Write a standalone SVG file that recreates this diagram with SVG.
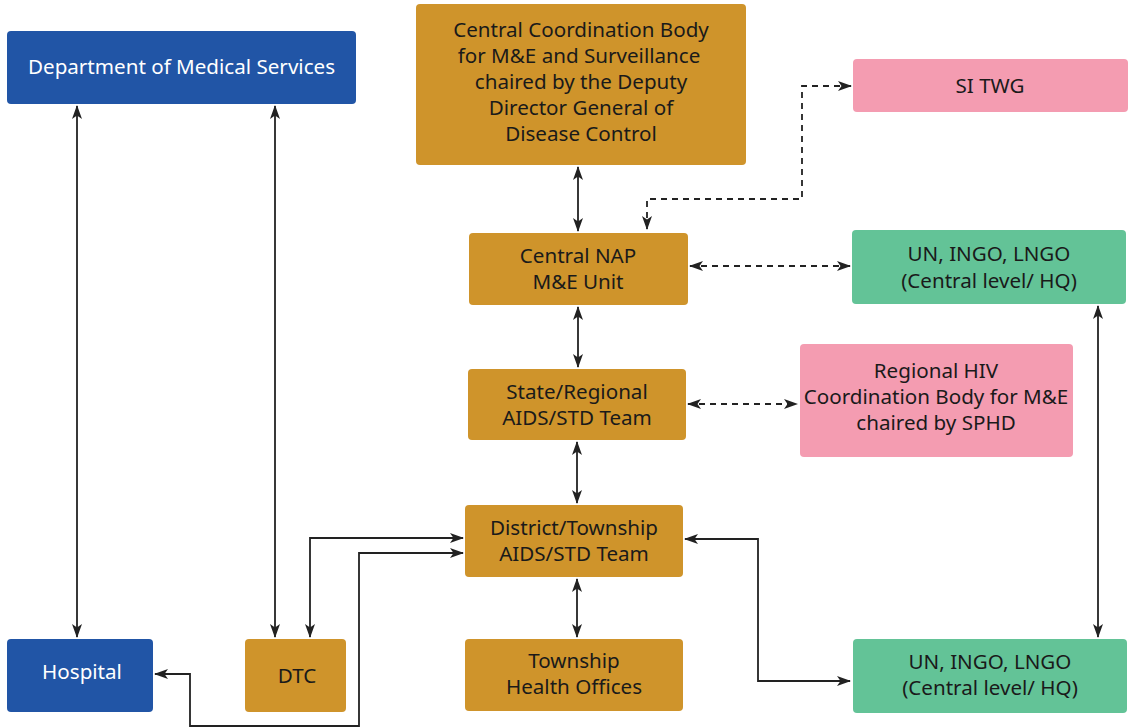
<svg xmlns="http://www.w3.org/2000/svg" width="1130" height="728" viewBox="0 0 1130 728">
  <defs>
    <marker id="ah" viewBox="0 0 14 10" refX="13" refY="5" markerWidth="14" markerHeight="10" markerUnits="userSpaceOnUse" orient="auto-start-reverse">
      <path d="M0,0 L14,5 L0,10 L3.5,5 Z" fill="#222"/>
    </marker>
  </defs>
  <style>
    .n rect { rx: 4; ry: 4; }
    .blue rect { fill: #2155a6; }
    .gold rect { fill: #cf942b; }
    .pink rect { fill: #f49cb1; }
    .green rect { fill: #63c397; }
    text { font-family: "Noto Sans", "DejaVu Sans", sans-serif; font-size: 20.6px; text-anchor: middle; fill: #1a1a1a; }
    .blue text { fill: #ffffff; }
    .c path { fill: none; stroke: #222; stroke-width: 1.8; marker-start: url(#ah); marker-end: url(#ah); }
    .c .d { stroke-dasharray: 6 5; }
  </style>

  <!-- connectors -->
  <g id="connectors" class="c">
    <path d="M77,106 V637"/>
    <path d="M275,106 V637"/>
    <path d="M578,167 V231"/>
    <path d="M578,307 V367"/>
    <path d="M577,442 V503"/>
    <path d="M577,579 V637"/>
    <path d="M1098,306 V637"/>
    <path class="d" d="M690,266 H850"/>
    <path class="d" d="M688,404 H797"/>
    <path class="d" d="M647,229 V199 H802 V86 H851"/>
    <path d="M685,539 H758 V681 H850"/>
    <path d="M310,637 V538 H463"/>
    <path d="M155,674 H190 V726 H359 V553 H463"/>
  </g>

  <g id="dms" class="n blue">
    <rect x="7" y="31" width="349" height="73"/>
    <text x="181.5" y="74">Department of Medical Services</text>
  </g>
  <g id="hospital" class="n blue">
    <rect x="7" y="639" width="146" height="73"/>
    <text x="82" y="679">Hospital</text>
  </g>
  <g id="dtc" class="n gold">
    <rect x="245" y="639" width="101" height="73"/>
    <text x="297" y="683">DTC</text>
  </g>
  <g id="central-coord" class="n gold">
    <rect x="416" y="4" width="330" height="161"/>
    <text x="581" y="37">Central Coordination Body</text>
    <text x="579" y="63">for M&amp;E and Surveillance</text>
    <text x="581" y="89">chaired by the Deputy</text>
    <text x="581" y="115">Director General of</text>
    <text x="581" y="141">Disease Control</text>
  </g>
  <g id="central-nap" class="n gold">
    <rect x="469" y="233" width="219" height="72"/>
    <text x="578" y="263">Central NAP</text>
    <text x="578" y="289">M&amp;E Unit</text>
  </g>
  <g id="state" class="n gold">
    <rect x="468" y="369" width="218" height="71"/>
    <text x="577" y="399">State/Regional</text>
    <text x="577" y="425">AIDS/STD Team</text>
  </g>
  <g id="district" class="n gold">
    <rect x="465" y="505" width="218" height="72"/>
    <text x="574" y="535">District/Township</text>
    <text x="574" y="561">AIDS/STD Team</text>
  </g>
  <g id="township" class="n gold">
    <rect x="465" y="639" width="218" height="72"/>
    <text x="574" y="668">Township</text>
    <text x="574" y="694">Health Offices</text>
  </g>
  <g id="si-twg" class="n pink">
    <rect x="853" y="59" width="275" height="53"/>
    <text x="990" y="93">SI TWG</text>
  </g>
  <g id="un-top" class="n green">
    <rect x="852" y="230" width="274" height="74"/>
    <text x="989" y="261">UN, INGO, LNGO</text>
    <text x="989" y="288">(Central level/ HQ)</text>
  </g>
  <g id="regional-hiv" class="n pink">
    <rect x="800" y="344" width="273" height="113"/>
    <text x="936" y="378">Regional HIV</text>
    <text x="936" y="404">Coordination Body for M&amp;E</text>
    <text x="936" y="430">chaired by SPHD</text>
  </g>
  <g id="un-bottom" class="n green">
    <rect x="853" y="639" width="274" height="74"/>
    <text x="990" y="669">UN, INGO, LNGO</text>
    <text x="990" y="695">(Central level/ HQ)</text>
  </g>
</svg>
